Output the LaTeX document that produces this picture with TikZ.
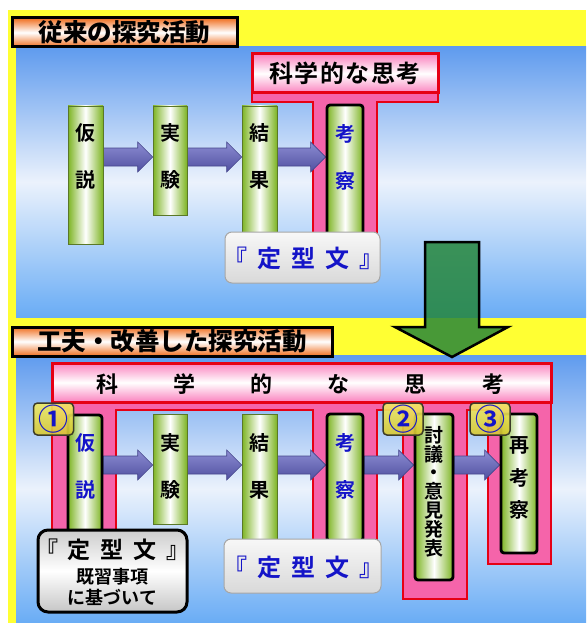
\documentclass[tikz,border=0pt]{standalone}
\usepackage{fontspec}
\newfontfamily\jp{Noto Sans CJK JP}[BoldFont={Noto Sans CJK JP Bold}]
\newfontfamily\jpblack{Noto Sans CJK JP Black}
\usetikzlibrary{calc}
\pgfdeclarelayer{bg}
\pgfdeclarelayer{arr}
\pgfsetlayers{bg,arr,main}
\definecolor{yel}{RGB}{255,255,51}
\definecolor{skyA}{RGB}{95,155,238}
\definecolor{skyM}{RGB}{235,242,252}
\definecolor{skyB}{RGB}{105,172,245}
\definecolor{org}{RGB}{240,110,30}
\definecolor{pnk}{RGB}{245,100,170}
\definecolor{pnkL}{RGB}{250,130,190}
\definecolor{redB}{RGB}{230,0,20}
\definecolor{grn}{RGB}{125,180,35}
\definecolor{grnD}{RGB}{90,120,40}
\definecolor{arrT}{RGB}{140,140,210}
\definecolor{arrB}{RGB}{80,80,160}
\definecolor{arrD}{RGB}{70,70,140}
\definecolor{bigG}{RGB}{35,133,56}
\definecolor{txtB}{RGB}{20,20,200}
\definecolor{badT}{RGB}{242,236,100}
\definecolor{badB}{RGB}{215,200,50}
\definecolor{badD}{RGB}{60,60,40}
\newcommand\blockarrow[3]{%
  \path[blockarr] let \p1=(#1.east |- #3), \p2=(#2.west |- #3) in
    (\x1,\y1+9pt) -- (\x2-15pt,\y1+9pt) -- (\x2-15pt,\y1+15pt) -- (\x2,\y1)
    -- (\x2-15pt,\y1-15pt) -- (\x2-15pt,\y1-9pt) -- (\x1,\y1-9pt) -- cycle;}
\begin{document}
\begin{tikzpicture}[x=1pt,y=-1pt,
  title/.style={draw=black, line width=3pt, top color=org, bottom color=org, middle color=white,
    inner sep=0, font=\jpblack\fontsize{24.5}{26}\selectfont},
  pinkshape/.style={fill=pnk, draw=redB, line width=2.5pt},
  thinkbox/.style={draw=redB, line width=3pt, top color=pnkL, bottom color=pnkL, middle color=white,
    inner sep=0},
  bar/.style={draw=grnD, line width=0.6pt, left color=grn, right color=grn, middle color=white, inner sep=0},
  hbar/.style={bar, draw=black, line width=2.8pt, rounded corners=3pt},
  bartext/.style={inner sep=0, align=center, font=\jp\bfseries\fontsize{20}{47}\selectfont},
  blockarr/.style={top color=arrT, bottom color=arrB, draw=arrD, line width=0.6pt},
  bigarrow/.style={fill=bigG, fill opacity=.83, draw=black, line width=2.5pt},
  stdbox/.style={draw=gray!70, line width=1pt, rounded corners=7pt, top color=gray!6, bottom color=gray!30, inner sep=0},
  stdbox2/.style={draw=black, line width=3pt, rounded corners=10pt, top color=gray!40, bottom color=gray!45, middle color=white, inner sep=0},
  badge/.style={draw=badD, line width=1.5pt, rounded corners=4pt, top color=badT, bottom color=badB, fill opacity=.9,
    minimum width=40pt, minimum height=32pt, inner sep=0, text=txtB, text opacity=1, font=\jp\bfseries\fontsize{30}{30}\selectfont},
  kch/.style={inner sep=0, font=\jp\bfseries\fontsize{22}{22}\selectfont}
]
\useasboundingbox (0,0) rectangle (586,623);
\coordinate (ya) at (0,157);
\coordinate (yb) at (0,465);
\begin{pgfonlayer}{bg}
\fill[white] (0,0) rectangle (586,623);
\fill[yel] (8,10) rectangle (586,623);
\shade[top color=skyA, bottom color=skyB, middle color=skyM] (16,47) rectangle (586,317);
\shade[top color=skyA, bottom color=skyB, middle color=skyM] (16,355) rectangle (586,623);
% top pink T
\path[pinkshape] (252,54) -- (438,54) -- (438,102) -- (377,102) -- (377,240) -- (313,240) -- (313,102) -- (252,102) -- cycle;
% bottom pink frame
\path[pinkshape] (52,363) -- (551,363) -- (551,564) -- (488,564) -- (488,410) -- (467,410) -- (467,599)
  -- (403,599) -- (403,410) -- (377,410) -- (377,545) -- (313,545) -- (313,410) -- (116,410) -- (116,535)
  -- (52,535) -- cycle;
\end{pgfonlayer}

% titles
\node[title, minimum width=225pt, minimum height=29pt] (t1) at (124.5,32.5) {従来の探究活動};
\node[title, minimum width=320pt, minimum height=29pt] (t2) at (172,341.5) {工夫・改善した探究活動};

% ---------- top panel ----------
\node[thinkbox, minimum width=186pt, minimum height=39pt, font=\jp\bfseries\fontsize{24}{24}\selectfont] (s1) at (345,73.5) {科\hspace{1.5pt}学\hspace{1.5pt}的\hspace{1.5pt}な\hspace{1.5pt}思\hspace{1.5pt}考};
\node[bar, minimum width=35pt, minimum height=138pt] (b1) at (85.5,175) {};
\node[bar, minimum width=34pt, minimum height=109pt] (b2) at (170,160.5) {};
\node[bar, minimum width=35pt, minimum height=134pt] (b3) at (259.5,173) {};
\node[hbar, minimum width=36pt, minimum height=135pt] (b4) at (345,172.5) {};
\node[bartext] (tb1) at (85.5,156.5) {仮\\説};
\node[bartext] (tb2) at (170,156.5) {実\\験};
\node[bartext] (tb3) at (259.5,156.5) {結\\果};
\node[bartext, text=txtB] (tb4) at (345,157.5) {考\\察};
\begin{pgfonlayer}{arr}
\blockarrow{b1}{b2}{ya}
\blockarrow{b2}{b3}{ya}
\blockarrow{b3}{b4}{ya}
\end{pgfonlayer}
\node[stdbox, minimum width=155pt, minimum height=51pt] (k1) at (302.5,257.5) {};
\node[inner sep=0, text=txtB, font=\jp\bfseries\fontsize{24}{24}\selectfont] (k1t) at (303.5,258) {『\hspace{10pt}定\hspace{10pt}型\hspace{10pt}文\hspace{10pt}』};

% big green arrow
\path[bigarrow] (425,242) -- (479,242) -- (479,327) -- (508,327) -- (452,357) -- (395,327) -- (425,327) -- cycle;

% ---------- bottom panel ----------
\node[thinkbox, minimum width=499pt, minimum height=39pt] (w1) at (301.5,382.5) {};
\foreach \c [count=\i from 0] in {科,学,的,な,思,考}
  \node[kch] (wc\i) at ({107+77.2*\i},384) {\c};

\node[hbar, minimum width=34pt, minimum height=117pt] (c1) at (85,473.5) {};
\node[bar, minimum width=34pt, minimum height=110pt] (c2) at (170,469) {};
\node[bar, minimum width=35pt, minimum height=127pt] (c3) at (259.5,477.5) {};
\node[hbar, minimum width=36pt, minimum height=127pt] (c4) at (345,477.5) {};
\node[hbar, minimum width=38pt, minimum height=166pt] (c5) at (434,497) {};
\node[hbar, minimum width=36pt, minimum height=139pt] (c6) at (519,483.5) {};
\node[bartext, text=txtB] (tc1) at (85,466.5) {仮\\説};
\node[bartext] (tc2) at (170,466.5) {実\\験};
\node[bartext] (tc3) at (259.5,466.5) {結\\果};
\node[bartext, text=txtB] (tc4) at (345,466) {考\\察};
\node[bartext, font=\jp\bfseries\fontsize{19}{18.8}\selectfont] (tc5) at (434,491.5) {討\\議\\・\\意\\見\\発\\表};
\node[bartext, font=\jp\bfseries\fontsize{20}{32.5}\selectfont] (tc6) at (519,478) {再\\考\\察};
\begin{pgfonlayer}{arr}
\blockarrow{c1}{c2}{yb}
\blockarrow{c2}{c3}{yb}
\blockarrow{c3}{c4}{yb}
\blockarrow{c4}{c5}{yb}
\blockarrow{c5}{c6}{yb}
\end{pgfonlayer}

\node[stdbox2, minimum width=149pt, minimum height=82pt] (k2) at (112.5,571) {};
\node[inner sep=0, font=\jp\bfseries\fontsize{23}{23}\selectfont] (k2a) at (112.5,550) {『\hspace{10pt}定\hspace{10pt}型\hspace{10pt}文\hspace{10pt}』};
\node[inner sep=0, font=\jp\bfseries\fontsize{18}{18}\selectfont] (k2b) at (112.5,577) {既習事項};
\node[inner sep=0, font=\jp\bfseries\fontsize{18}{18}\selectfont] (k2c) at (112.5,597) {に基づいて};

\node[stdbox, minimum width=157pt, minimum height=54pt] (k3) at (302.5,566) {};
\node[inner sep=0, text=txtB, font=\jp\bfseries\fontsize{24}{24}\selectfont] (k3t) at (303.5,567) {『\hspace{10pt}定\hspace{10pt}型\hspace{10pt}文\hspace{10pt}』};

\node[badge] (n1) at (53.5,419) {①};
\node[badge] (n2) at (403,419) {②};
\node[badge] (n3) at (490,419) {③};
\end{tikzpicture}
\end{document}
